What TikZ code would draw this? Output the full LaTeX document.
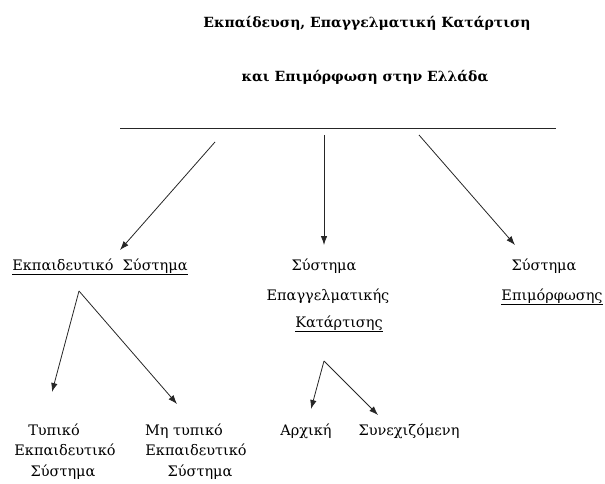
\documentclass[tikz,border=0pt]{standalone}
\usepackage{fontspec}
\setmainfont{DejaVu Serif}
\usetikzlibrary{arrows.meta}
\begin{document}
\begin{tikzpicture}[x=1pt,y=-1pt,
  txt/.style={inner sep=0pt, anchor=base, font=\fontsize{14.5}{18}\selectfont},
  ttl/.style={inner sep=0pt, anchor=base, font=\fontsize{14}{18}\selectfont\bfseries},
  arr/.style={draw=black!85, line width=0.8pt, -{Latex[length=9pt,width=6.5pt]}},
  rule/.style={draw=black!85, line width=0.8pt}]
\useasboundingbox (0,0) rectangle (605,484);
% title
\node[ttl] (t1) at (367,28) {Εκπαίδευση, Επαγγελματική Κατάρτιση};
\node[ttl] (t2) at (365,82) {και Επιμόρφωση στην Ελλάδα};
\coordinate (hl) at (120,128);
\coordinate (hr) at (556,128);
\draw[rule] (hl) -- (hr);
% second level
\node[txt] (edu) at (100,270) {\underline{Εκπαιδευτικό\ \ Σύστημα}};
\node[txt] (vs1) at (324,270) {Σύστημα};
\node[txt] (vs2) at (328,300) {Επαγγελματικής};
\node[txt] (vs3) at (339,327) {\underline{Κατάρτισης}};
\node[txt] (cs1) at (544,270) {Σύστημα};
\node[txt] (cs2) at (552,300) {\underline{Επιμόρφωσης}};
% third level
\node[txt] (f1) at (54,435) {Τυπικό};
\node[txt] (f2) at (65,455) {Εκπαιδευτικό};
\node[txt] (f3) at (63,476) {Σύστημα};
\node[txt] (n1) at (184,435) {Μη τυπικό};
\node[txt] (n2) at (196,455) {Εκπαιδευτικό};
\node[txt] (n3) at (200,476) {Σύστημα};
\node[txt] (a1) at (306,435) {Αρχική};
\node[txt] (c1) at (409,435) {Συνεχιζόμενη};
% arrow points
\coordinate (s1) at (215,142);
\coordinate (e1) at (120,250);
\coordinate (s2) at (324,135);
\coordinate (e2) at (324,245);
\coordinate (s3) at (419,135);
\coordinate (e3) at (515,245);
\coordinate (p1) at (79,291);
\coordinate (q1) at (52,392);
\coordinate (q2) at (177,404);
\coordinate (p2) at (324,361);
\coordinate (r1) at (311,409);
\coordinate (r2) at (378,415);
\draw[arr] (s1) -- (e1);
\draw[arr] (s2) -- (e2);
\draw[arr] (s3) -- (e3);
\draw[arr] (p1) -- (q1);
\draw[arr] (p1) -- (q2);
\draw[arr] (p2) -- (r1);
\draw[arr] (p2) -- (r2);
\end{tikzpicture}
\end{document}
